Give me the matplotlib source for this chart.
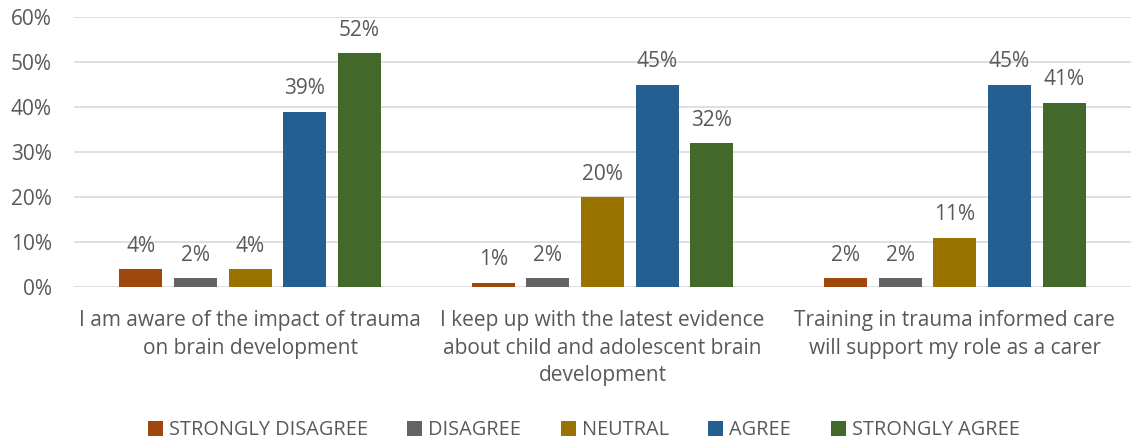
import matplotlib
matplotlib.use("Agg")
import matplotlib.pyplot as plt
import numpy as np
from matplotlib.ticker import PercentFormatter

categories = [
    "I am aware of the impact of trauma\non brain development",
    "I keep up with the latest evidence\nabout child and adolescent brain\ndevelopment",
    "Training in trauma informed care\nwill support my role as a carer",
]
series_names = ["STRONGLY DISAGREE", "DISAGREE", "NEUTRAL", "AGREE", "STRONGLY AGREE"]
strongly_disagree = [4, 1, 2]
disagree = [2, 2, 2]
neutral = [4, 20, 11]
agree = [39, 45, 45]
strongly_agree = [52, 32, 41]
colors = ["#9E480E", "#636363", "#997300", "#255E91", "#43682B"]

values = [strongly_disagree, disagree, neutral, agree, strongly_agree]

plt.rcParams['font.family'] = ['Open Sans', 'DejaVu Sans']
text_color = "#595959"

fig = plt.figure(figsize=(11.31, 4.41), dpi=100)
ax = fig.add_axes([0.0654, 0.349, 0.9346, 0.6125])

x = np.arange(len(categories))
step = 0.155
width = 0.122
for i, (name, vals, c) in enumerate(zip(series_names, values, colors)):
    pos = x + (i - 2) * step
    bars = ax.bar(pos, vals, width=width, color=c, label=name, zorder=3)
    for b, v in zip(bars, vals):
        ax.annotate(f"{v}%", (b.get_x() + b.get_width() / 2, v),
                    xytext=(0, 16.5), textcoords="offset points",
                    ha="center", va="center", fontsize=15, color=text_color)

ax.set_xlim(-0.5, 2.5)
ax.set_ylim(0, 60)
ax.set_yticks(range(0, 61, 10))
ax.yaxis.set_major_formatter(PercentFormatter(decimals=0))
ax.grid(axis="y", color="#D9D9D9", linewidth=1.2, zorder=0)
for s in ax.spines.values():
    s.set_visible(False)
ax.tick_params(axis="both", length=0, labelsize=15, labelcolor=text_color)
ax.tick_params(axis="y", pad=16)
ax.set_xticks(x)
ax.set_xticklabels(categories, fontsize=15, color=text_color, linespacing=1.42)
ax.tick_params(axis="x", pad=16.5)

leg = fig.legend(loc="center", bbox_to_anchor=(0.516, 0.024), ncol=5, frameon=False,
                 fontsize=14.3, handlelength=0.75, handleheight=0.75, handletextpad=0.3,
                 columnspacing=2.0, labelcolor=text_color)

fig.savefig("out.png", dpi=100)
